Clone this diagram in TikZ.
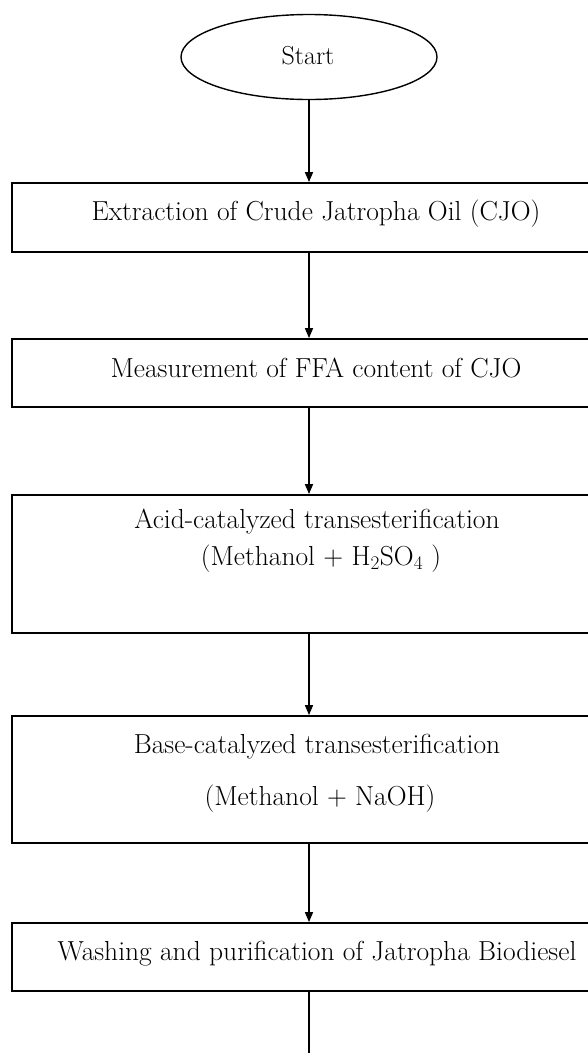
\documentclass[tikz,border=0pt]{standalone}
\usetikzlibrary{arrows.meta,shapes.geometric}
\begin{document}
\begin{tikzpicture}[x=1pt,y=-1pt,
  boxstyle/.style={draw, line width=1.8pt, rectangle, minimum width=608pt, inner sep=0pt},
  lbl/.style={font=\fontsize{27.5}{32}\selectfont, anchor=base, inner sep=0pt},
  conn/.style={line width=1.4pt, -{Triangle[width=8pt,length=10pt]}},
]
\useasboundingbox[fill=white] (0,0) rectangle (587,1053);
\node[draw, ellipse, line width=1.4pt, minimum width=256pt, minimum height=85pt, inner sep=0pt] (start) at (309,57) {};
\node[lbl, font=\fontsize{26}{30}\selectfont] (starttext) at (308,64) {Start};

\node[boxstyle, minimum height=69pt] (b1) at (316,217.5) {};
\node[boxstyle, minimum height=68pt] (b2) at (316,373) {};
\node[boxstyle, minimum height=138pt] (b3) at (316,564) {};
\node[boxstyle, minimum height=127pt] (b4) at (316,779.5) {};
\node[boxstyle, minimum height=68pt] (b5) at (316,957) {};

\node[lbl] (t1) at (316,220) {Extraction of Crude Jatropha Oil (CJO)};
\node[lbl] (t2) at (316,377) {Measurement of FFA content of CJO};
\node[lbl] (t3a) at (317,528) {Acid-catalyzed transesterification};
\node[lbl] (t3b) at (321,565) {(Methanol + H\textsubscript{2}SO\textsubscript{4}\ )};
\node[lbl] (t4a) at (317,753) {Base-catalyzed transesterification};
\node[lbl] (t4b) at (320,805) {(Methanol + NaOH)};
\node[lbl] (t5) at (317,960) {Washing and purification of Jatropha Biodiesel};

\coordinate (tail) at (309,1053);
\draw[conn] (start.south) -- (start.south |- b1.north);
\draw[conn] (b1.south -| start.south) -- (b2.north -| start.south);
\draw[conn] (b2.south -| start.south) -- (b3.north -| start.south);
\draw[conn] (b3.south -| start.south) -- (b4.north -| start.south);
\draw[conn] (b4.south -| start.south) -- (b5.north -| start.south);
\draw[line width=1.4pt] (b5.south -| tail) -- (tail);
\end{tikzpicture}
\end{document}
